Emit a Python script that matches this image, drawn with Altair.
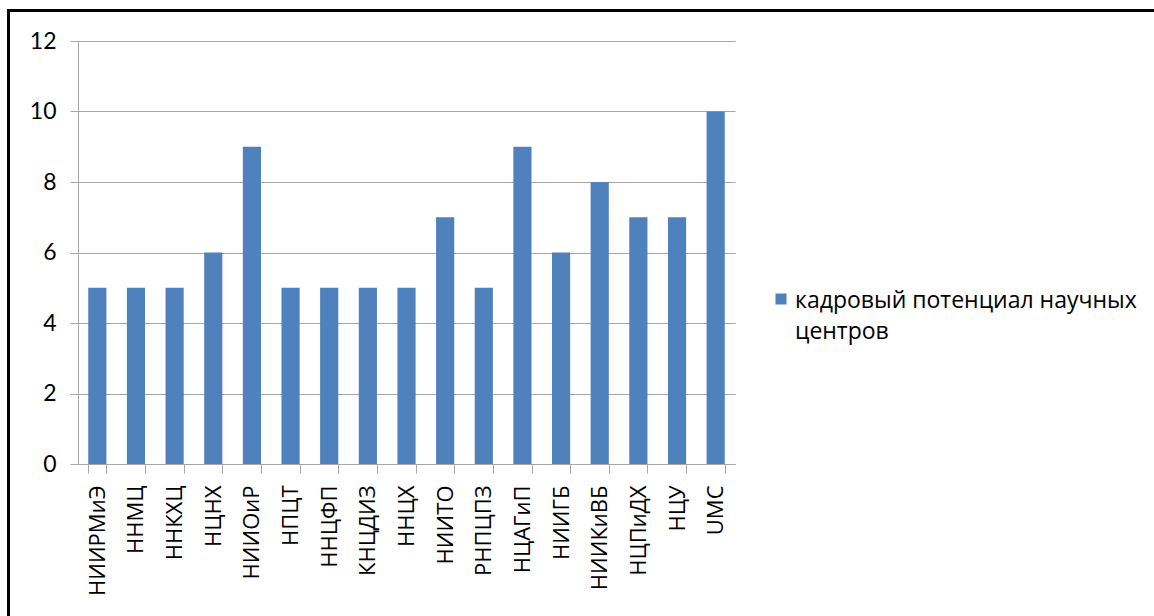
import altair as alt
import pandas as pd

categories = ["НИИРМиЭ", "ННМЦ", "ННКХЦ", "НЦНХ", "НИИОиР", "НПЦТ", "ННЦФП", "КНЦДИЗ",
              "ННЦХ", "НИИТО", "РНПЦПЗ", "НЦАГиП", "НИИГБ", "НИИКиВБ", "НЦПиДХ", "НЦУ", "UMC"]
values = [5, 5, 5, 6, 9, 5, 5, 5, 5, 7, 5, 9, 6, 8, 7, 7, 10]
series_name = "кадровый потенциал научных центров"
legend_lines = ["кадровый потенциал научных", "центров"]
y_ticks = [0, 2, 4, 6, 8, 10, 12]

df = pd.DataFrame({"cat": categories, "val": values, "series": [series_name] * len(values)})
legend_df = pd.DataFrame({"series": [series_name]})

GRID = "#a6a6a6"
BAR = "#4F81BD"
FONT = "Open Sans"

bars = alt.Chart(df).mark_bar(color=BAR).encode(
    x=alt.X("cat:N", sort=categories,
            scale=alt.Scale(paddingInner=0.53, paddingOuter=0.265),
            axis=alt.Axis(title=None, labelAngle=270, labelAlign="right", labelBaseline="middle",
                          tickBand="extent", tickSize=9, labelPadding=12, grid=False,
                          labelFontSize=22, labelFont=FONT, labelColor="#000000",
                          domainColor=GRID, tickColor=GRID)),
    y=alt.Y("val:Q", scale=alt.Scale(domain=[0, 12], nice=False),
            axis=alt.Axis(title=None, values=y_ticks, grid=True, gridColor=GRID,
                          tickSize=8, labelPadding=14, labelFontSize=23, labelFont="Lato",
                          labelColor="#000000", domainColor=GRID, tickColor=GRID)),
)

# legend (symbol + wrapped label)
legend_symbol = alt.Chart(legend_df).mark_square(filled=True, color=BAR, size=121, opacity=1).encode(
    x=alt.value(703), y=alt.value(258)
)
legend_text = alt.Chart(legend_df).mark_text(
    text=legend_lines, font=FONT, fontSize=23, color="#000000",
    align="left", baseline="alphabetic", lineHeight=31
).encode(x=alt.value(717), y=alt.value(267))

border = alt.Chart(legend_df).mark_rect(filled=False, stroke="#000000", strokeWidth=3).encode(
    x=alt.value(-69.5), y=alt.value(-30.5), x2=alt.value(1100), y2=alt.value(620)
)

chart = alt.layer(bars, legend_symbol, legend_text, border).properties(
    width=657, height=423,
    autosize="none",
    padding={"left": 78, "top": 41, "right": 419, "bottom": 152},
    background="#ffffff",
).configure_view(stroke=None)

chart.save("out.html", embed_options={"renderer": "svg", "actions": False})
